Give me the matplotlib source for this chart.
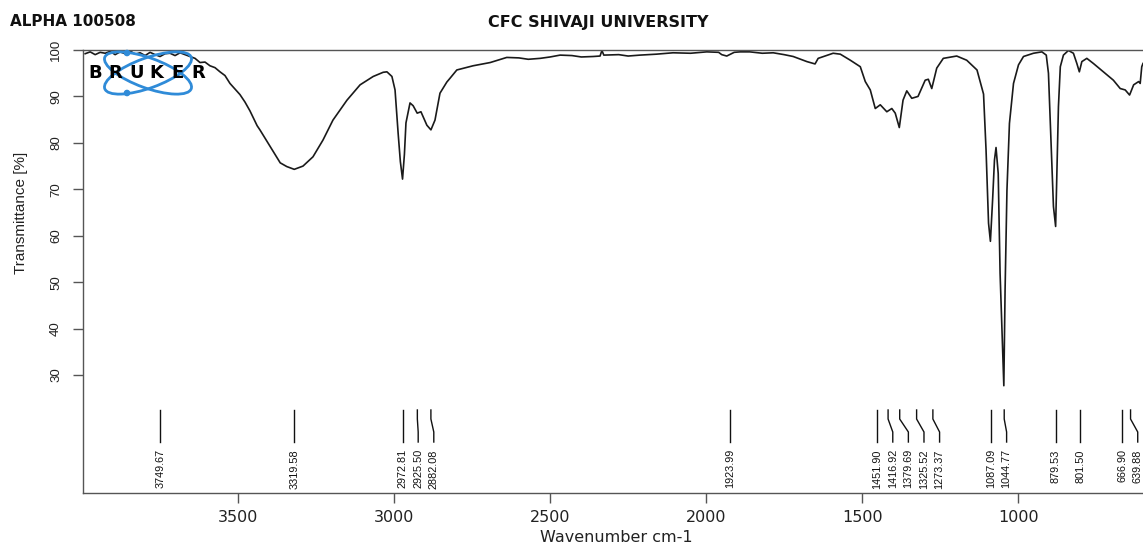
"""FT-IR transmittance spectrum (ALPHA 100508) redrawn in the OPUS print style."""

import matplotlib

matplotlib.use("Agg")
import matplotlib.pyplot as plt
from matplotlib.patches import Ellipse, Circle
from matplotlib.transforms import blended_transform_factory

FIG_W, FIG_H, DPI = 1143, 544, 100

# spectrum (cm-1, %T)
WAVENUMBER = [
    3990, 3974, 3958, 3942, 3926, 3910, 3894, 3878, 3862, 3846, 3830, 3814,
    3798, 3782, 3766, 3750, 3734, 3718, 3702, 3686, 3670, 3654, 3638, 3622,
    3606, 3590, 3574, 3558, 3542, 3526, 3510, 3494, 3478, 3462, 3439, 3430,
    3397, 3365, 3344, 3320, 3292, 3260, 3228, 3196, 3151, 3109, 3067, 3035,
    3023, 3007, 2997, 2987, 2980, 2973, 2967, 2962, 2949, 2939, 2926, 2914,
    2895, 2882, 2869, 2853, 2831, 2821, 2799, 2747, 2692, 2639, 2600, 2570,
    2532, 2500, 2468, 2430, 2400, 2362, 2340, 2334, 2328, 2280, 2250, 2212,
    2160, 2106, 2050, 1998, 1960, 1950, 1934, 1910, 1891, 1860, 1820, 1785,
    1750, 1721, 1677, 1651, 1641, 1593, 1570, 1538, 1506, 1490, 1474, 1458,
    1442, 1421, 1405, 1394, 1381, 1369, 1357, 1341, 1321, 1298, 1288, 1277,
    1261, 1240, 1197, 1165, 1132, 1111, 1103, 1095, 1089, 1082, 1076, 1071,
    1064, 1058, 1046, 1042, 1036, 1028, 1015, 999, 983, 951, 924, 910,
    903, 895, 887, 880, 876, 871, 865, 855, 839, 823, 812, 804,
    796, 780, 759, 727, 695, 673, 657, 643, 630, 614, 609, 604,
    600,
]
TRANSMITTANCE = [
    99.2, 99.6, 99.0, 99.5, 99.3, 99.7, 99.0, 99.6, 99.2, 99.8, 99.1, 99.4,
    98.8, 99.5, 99.0, 98.6, 99.2, 99.3, 98.8, 99.4, 99.0, 98.6, 98.2, 97.3,
    97.4, 96.6, 96.2, 95.3, 94.5, 92.8, 91.6, 90.4, 88.8, 86.9, 83.7, 82.8,
    79.2, 75.7, 74.9, 74.3, 75.0, 77.0, 80.6, 84.9, 89.2, 92.5, 94.3, 95.2,
    95.3, 94.3, 91.4, 82.0, 76.0, 72.2, 77.5, 84.3, 88.6, 88.0, 86.4, 86.7,
    83.8, 82.8, 84.9, 90.7, 93.1, 93.9, 95.7, 96.6, 97.3, 98.4, 98.3, 98.0,
    98.2, 98.5, 98.9, 98.8, 98.5, 98.6, 98.7, 99.9, 98.9, 99.0, 98.7, 98.9,
    99.1, 99.4, 99.3, 99.6, 99.5, 99.0, 98.7, 99.5, 99.6, 99.6, 99.3, 99.4,
    99.0, 98.6, 97.5, 97.0, 98.2, 99.3, 99.1, 97.8, 96.4, 93.2, 91.4, 87.4,
    88.2, 86.7, 87.4, 86.4, 83.3, 89.2, 91.2, 89.6, 90.0, 93.5, 93.7, 91.7,
    96.1, 98.2, 98.7, 97.8, 95.7, 90.5, 78.5, 62.7, 58.8, 67.7, 76.3, 79.0,
    73.4, 51.9, 27.7, 48.3, 69.8, 84.2, 92.8, 96.8, 98.6, 99.3, 99.6, 98.9,
    95.0, 80.6, 66.3, 62.0, 73.4, 87.8, 96.4, 98.9, 99.9, 99.3, 97.1, 95.3,
    97.5, 98.2, 97.1, 95.3, 93.5, 91.7, 91.4, 90.3, 92.5, 93.2, 92.8, 96.4,
    97.1,
]

PEAKS = [
    3749.67, 3319.58, 2972.81, 2925.50, 2882.08, 1923.99, 1451.90, 1416.92,
    1379.69, 1325.52, 1273.37, 1087.09, 1044.77, 879.53, 801.50, 666.90, 639.88,
]

X_TICKS = [3500, 3000, 2500, 2000, 1500, 1000]
Y_TICKS = [30, 40, 50, 60, 70, 80, 90, 100]

LABEL_GAP = 50  # cm-1 between neighbouring peak labels
SPINE_COLOR = "#555555"
LOGO_BLUE = "#2f8bd8"


def px_box(left, top, width, height):
    """Pixel box (from the top-left corner) to figure fractions."""
    return [left / FIG_W, 1 - (top + height) / FIG_H, width / FIG_W, height / FIG_H]


def label_positions(peaks, gap):
    positions = []
    for peak in peaks:
        if positions and positions[-1] - peak < gap:
            positions.append(positions[-1] - gap)
        else:
            positions.append(peak)
    return positions


def draw_peak_labels(ax):
    trans = blended_transform_factory(ax.transData, ax.transAxes)
    y_top, y_kink1, y_kink2, y_bottom, y_text = 0.1874, 0.167, 0.1377, 0.1151, 0.099
    for peak, pos in zip(PEAKS, label_positions(PEAKS, LABEL_GAP)):
        ax.plot(
            [peak, peak, pos, pos],
            [y_top, y_kink1, y_kink2, y_bottom],
            transform=trans, color="#111111", lw=1.0, clip_on=False,
        )
        ax.text(
            pos, y_text, f"{peak:.2f}", transform=trans, rotation=90,
            ha="center", va="top", fontsize=7.8, family="Liberation Sans",
            color="#111111",
        )


def draw_logo(fig):
    logo = fig.add_axes(px_box(80, 46, 135, 56))
    logo.set_xlim(80, 215)
    logo.set_ylim(102, 46)
    logo.axis("off")
    for angle in (20, -20):
        logo.add_patch(Ellipse((148, 73), 92, 30, angle=angle, fill=False,
                               ec=LOGO_BLUE, lw=2.0))
    for cy in (53, 93):
        logo.add_patch(Circle((127, cy), 2.6, color=LOGO_BLUE))
    for i, letter in enumerate("BRUKER"):
        logo.text(95 + i * 20.6, 73.5, letter, ha="center", va="center",
                  fontsize=13, weight="heavy", family="DejaVu Sans", color="black")


def main():
    fig = plt.figure(figsize=(FIG_W / DPI, FIG_H / DPI), dpi=DPI)
    ax = fig.add_axes(px_box(83, 50, FIG_W - 83, 443))

    ax.plot(WAVENUMBER, TRANSMITTANCE, color="#1a1a1a", lw=1.2)
    ax.set_xlim(3997, 600)
    ax.set_ylim(4.6, 100.0)

    ax.spines["right"].set_visible(False)
    for side in ("left", "top", "bottom"):
        ax.spines[side].set_color(SPINE_COLOR)
        ax.spines[side].set_linewidth(1.0)

    ax.set_xticks(X_TICKS)
    ax.set_xticklabels([str(t) for t in X_TICKS], fontsize=11.5, family="DejaVu Sans")
    ax.set_yticks(Y_TICKS)
    ax.set_yticklabels([str(t) for t in Y_TICKS], fontsize=9.5,
                       family="Liberation Sans", rotation=90, va="center")
    ax.tick_params(axis="x", direction="out", length=7, width=1,
                   color=SPINE_COLOR, pad=5, labelcolor="#222222")
    ax.tick_params(axis="y", direction="out", length=7, width=1,
                   color=SPINE_COLOR, pad=8, labelcolor="#222222")

    draw_peak_labels(ax)

    fig.text(616 / FIG_W, 1 - 537 / FIG_H, "Wavenumber cm-1", ha="center",
             va="center", fontsize=11.5, family="DejaVu Sans", color="#222222")
    fig.text(21 / FIG_W, 1 - 213 / FIG_H, "Transmittance [%]", rotation=90,
             ha="center", va="center", fontsize=11, family="Liberation Sans",
             color="#222222")
    fig.text(10 / FIG_W, 1 - 21 / FIG_H, "ALPHA 100508", ha="left", va="center",
             fontsize=11, weight="bold", family="DejaVu Sans", color="#111111")
    fig.text(598 / FIG_W, 1 - 22 / FIG_H, "CFC SHIVAJI UNIVERSITY", ha="center",
             va="center", fontsize=11.5, weight="bold", family="DejaVu Sans",
             color="#111111")

    draw_logo(fig)

    fig.savefig("out.png", dpi=DPI)
    plt.close(fig)


if __name__ == "__main__":
    main()
